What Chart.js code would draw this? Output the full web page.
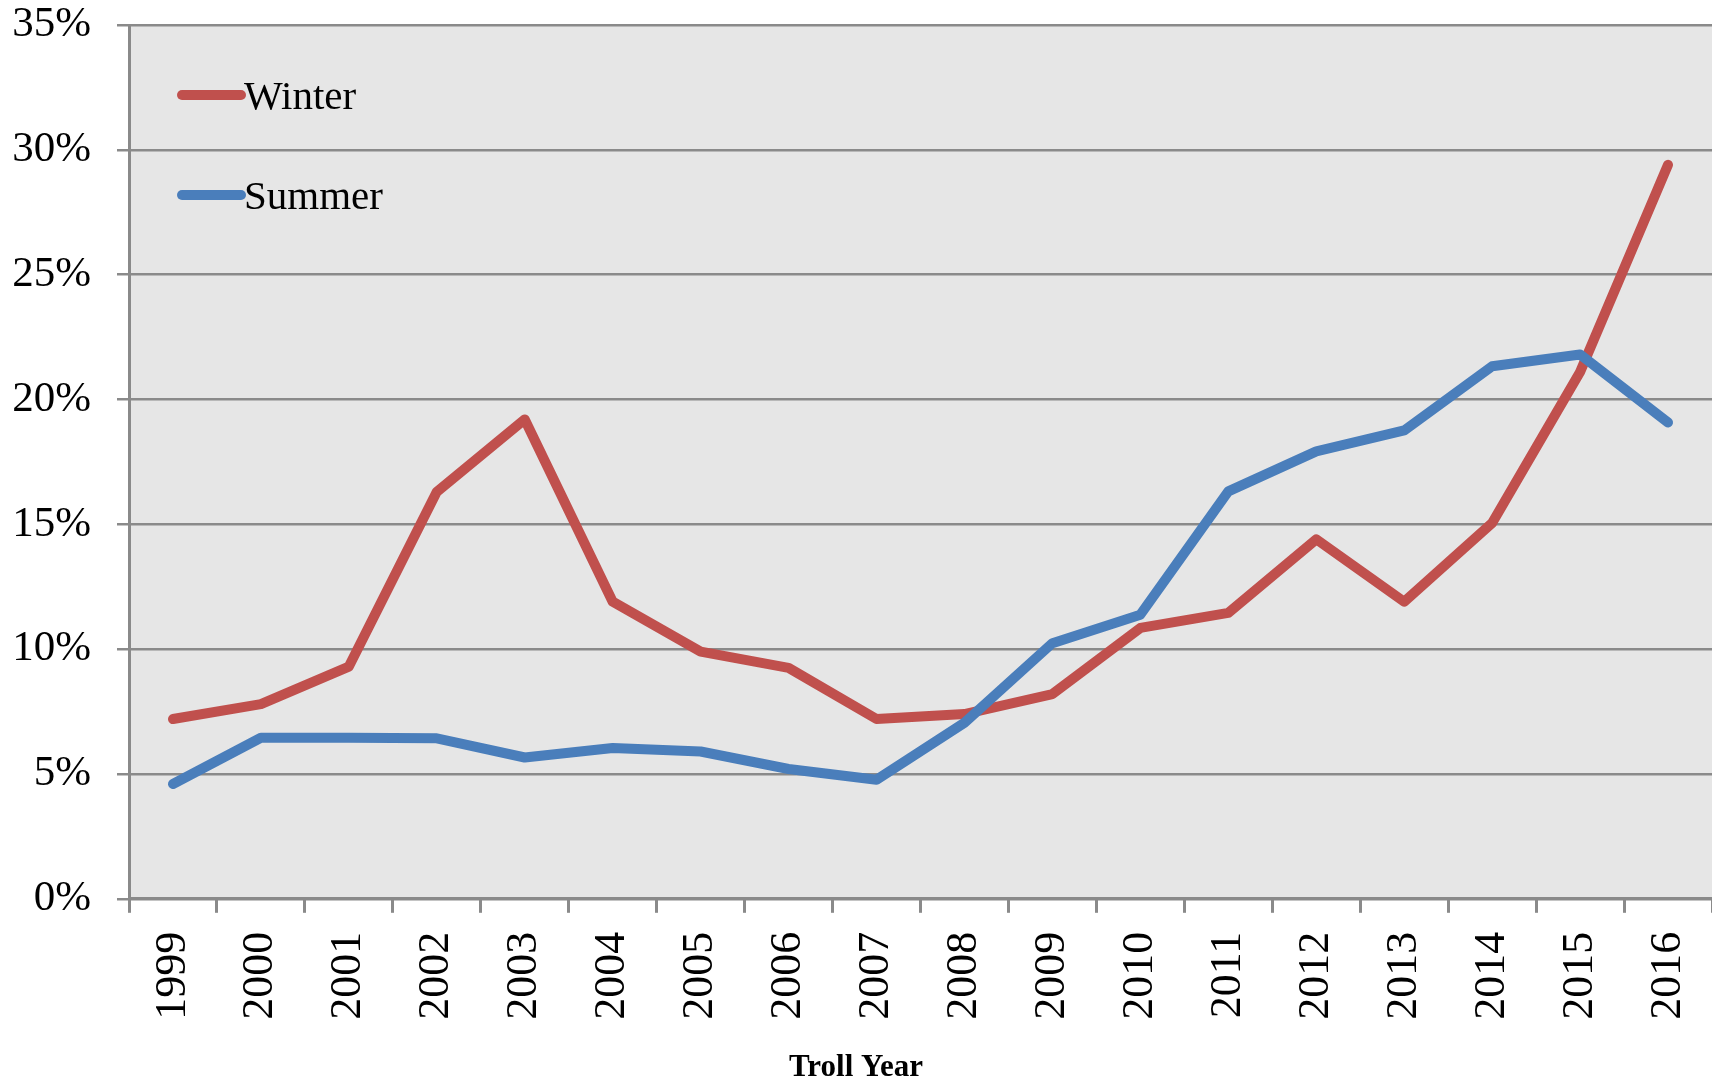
<!DOCTYPE html>
<html>
<head>
<meta charset="utf-8">
<script src="https://cdn.jsdelivr.net/npm/chart.js@4.4.1/dist/chart.umd.min.js"></script>
<style>
  body { margin: 0; background: #fff; }
  #wrap { width: 1712px; height: 1087px; }
</style>
</head>
<body>
<div id="wrap"><canvas id="trollChart" width="1712" height="1087"></canvas></div>
<script>
const years = ['1999', '2000', '2001', '2002', '2003', '2004', '2005', '2006', '2007',
    '2008', '2009', '2010', '2011', '2012', '2013', '2014', '2015', '2016'];
const winter = [7.2, 7.8, 9.3, 16.3, 19.2, 11.9, 9.9, 9.25, 7.2,
    7.4, 8.2, 10.85, 11.45, 14.4, 11.9, 15.05, 21.1, 29.4];
const summer = [4.6, 6.45, 6.45, 6.43, 5.66, 6.04, 5.9, 5.2, 4.77,
    7.05, 10.24, 11.38, 16.32, 17.92, 18.76, 21.33, 21.8, 19.08];
const yTicks = [0, 5, 10, 15, 20, 25, 30, 35];

const serif = "'Liberation Serif', 'Times New Roman', serif";
const gridGray = '#8a8a8a';

// grey plot background
const plotBg = {
    id: 'plotBg',
    beforeDraw(chart) {
        const a = chart.chartArea;
        const ctx = chart.ctx;
        ctx.save();
        ctx.fillStyle = '#e6e6e6';
        ctx.fillRect(a.left, a.top, a.right - a.left, a.bottom - a.top);
        ctx.restore();
    }
};

// legend sits inside the plot, top left
const insideLegend = {
    id: 'insideLegend',
    afterDraw(chart) {
        const a = chart.chartArea;
        const ctx = chart.ctx;
        const rows = [chart.data.datasets[0], chart.data.datasets[1]];
        ctx.save();
        rows.forEach((ds, i) => {
            const y = a.top + 70 + i * 100;
            ctx.strokeStyle = ds.borderColor;
            ctx.lineWidth = 10;
            ctx.lineCap = 'round';
            ctx.beginPath();
            ctx.moveTo(a.left + 53, y);
            ctx.lineTo(a.left + 112, y);
            ctx.stroke();
            ctx.fillStyle = '#000';
            ctx.font = '41px ' + serif;
            ctx.textBaseline = 'alphabetic';
            ctx.fillText(ds.label, a.left + 115, y + 14);
        });
        ctx.restore();
    }
};

new Chart(document.getElementById('trollChart'), {
    type: 'line',
    data: {
        labels: years,
        datasets: [
            {
                label: 'Winter',
                data: winter,
                borderColor: '#c0504d',
                borderWidth: 10,
                pointRadius: 0,
                tension: 0,
                borderCapStyle: 'round',
                borderJoinStyle: 'round',
                order: 1
            },
            {
                label: 'Summer',
                data: summer,
                borderColor: '#4a7ebb',
                borderWidth: 10,
                pointRadius: 0,
                tension: 0,
                borderCapStyle: 'round',
                borderJoinStyle: 'round',
                order: 0
            }
        ]
    },
    options: {
        responsive: false,
        animation: false,
        layout: { padding: { top: 25, left: 0, right: 0, bottom: 0 } },
        plugins: {
            legend: { display: false },
            tooltip: { enabled: false },
            title: {
                display: true,
                position: 'bottom',
                text: 'Troll Year',
                color: '#000',
                font: { family: serif, size: 31, weight: 'bold', lineHeight: 1.2 },
                padding: { top: 30, bottom: 0 }
            }
        },
        scales: {
            x: {
                offset: true,
                afterFit(scale) {
                    scale.height = 121;
                    scale.paddingLeft = 0;
                    scale.paddingRight = 0;
                },
                grid: {
                    display: true,
                    drawOnChartArea: false,
                    drawTicks: true,
                    tickLength: 14,
                    tickWidth: 3,
                    tickColor: gridGray,
                    offset: true
                },
                border: { display: true, color: gridGray, width: 3 },
                ticks: {
                    color: '#000',
                    font: { family: serif, size: 44 },
                    minRotation: 90,
                    maxRotation: 90,
                    padding: 19,
                    autoSkip: false
                }
            },
            y: {
                min: 0,
                max: 35,
                afterFit(scale) {
                    scale.width = 129;
                    scale.paddingTop = 0;
                    scale.paddingBottom = 0;
                },
                afterBuildTicks(scale) {
                    scale.ticks = yTicks.map(v => ({ value: v }));
                },
                grid: {
                    color: gridGray,
                    lineWidth: 2.5,
                    tickLength: 12,
                    tickColor: gridGray
                },
                border: { display: true, color: gridGray, width: 3 },
                ticks: {
                    color: '#000',
                    font: { family: serif, size: 43 },
                    padding: 26,
                    callback: v => v + '%'
                }
            }
        }
    },
    plugins: [plotBg, insideLegend]
});
</script>
</body>
</html>
